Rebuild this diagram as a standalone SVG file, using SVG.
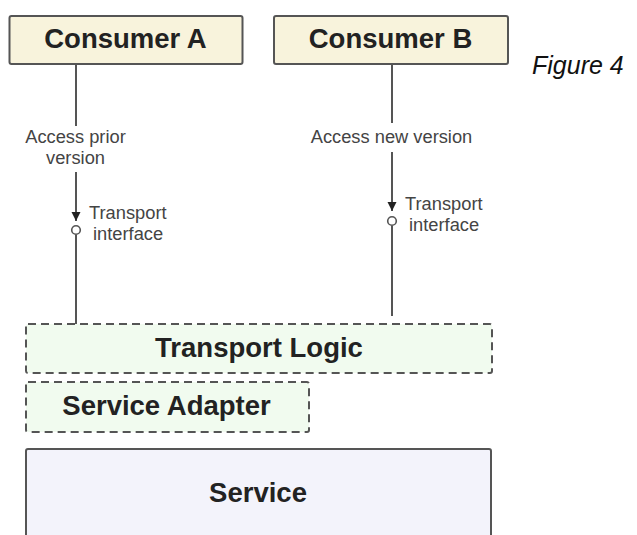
<svg xmlns="http://www.w3.org/2000/svg" width="637" height="535" viewBox="0 0 637 535">
<defs>
<style>
.consumer{fill:#F8F3DC;stroke:#555;stroke-width:2}
.dashed{fill:#F1FBEF;stroke:#555;stroke-width:2;stroke-dasharray:8 5}
.service{fill:#F3F3FB;stroke:#555;stroke-width:2}
.title{font-family:"Liberation Sans",Arial,sans-serif;font-weight:bold;font-size:27.5px;fill:#222;text-anchor:middle}
.lbl{font-family:"Liberation Sans",Arial,sans-serif;font-size:18.3px;fill:#444}
.mid{text-anchor:middle}
.conn{stroke:#555;stroke-width:2;fill:none}
.iface{fill:#fff;stroke:#555;stroke-width:1.6}
</style>
<marker id="arr" markerUnits="userSpaceOnUse" markerWidth="9" markerHeight="10" refX="9" refY="5" orient="auto">
<path d="M0,0.5 L9,5 L0,9.5 z" fill="#222"/>
</marker>
</defs>
<rect width="637" height="535" fill="#fff"/>

<g id="connectors">
<line class="conn" x1="76" y1="64" x2="76" y2="126"/>
<line class="conn" x1="76" y1="172" x2="76" y2="221" marker-end="url(#arr)"/>
<line class="conn" x1="76" y1="234.5" x2="76" y2="324"/>
<circle class="iface" cx="76" cy="230" r="4.3"/>
<text class="lbl mid" x="75.5" y="143">Access prior</text>
<text class="lbl mid" x="75.5" y="164">version</text>
<text class="lbl" x="89" y="219">Transport</text>
<text class="lbl" x="93" y="240">interface</text>

<line class="conn" x1="392" y1="64" x2="392" y2="123"/>
<line class="conn" x1="392" y1="152" x2="392" y2="211" marker-end="url(#arr)"/>
<line class="conn" x1="392" y1="225.5" x2="392" y2="316"/>
<circle class="iface" cx="392" cy="221" r="4.3"/>
<text class="lbl mid" x="391.5" y="143">Access new version</text>
<text class="lbl" x="405" y="210">Transport</text>
<text class="lbl" x="409" y="231">interface</text>
</g>

<g id="consumer-a">
<rect class="consumer" x="9.5" y="16" width="233" height="48" rx="2"/>
<text class="title" x="125.5" y="48">Consumer A</text>
</g>

<g id="consumer-b">
<rect class="consumer" x="274" y="16" width="234" height="48" rx="2"/>
<text class="title" x="390.5" y="48">Consumer B</text>
</g>

<text x="532" y="74" font-family="'Liberation Sans',Arial,sans-serif" font-style="italic" font-size="25" fill="#111">Figure 4</text>

<g id="transport-logic">
<rect class="dashed" x="26" y="324" width="466" height="49" rx="2"/>
<text class="title" x="259" y="357">Transport Logic</text>
</g>

<g id="service-adapter">
<rect class="dashed" x="26" y="382" width="283" height="50" rx="2"/>
<text class="title" x="166.5" y="415">Service Adapter</text>
</g>

<g id="service">
<rect class="service" x="26" y="449" width="465" height="100" rx="2"/>
<text class="title" x="258" y="502">Service</text>
</g>
</svg>
